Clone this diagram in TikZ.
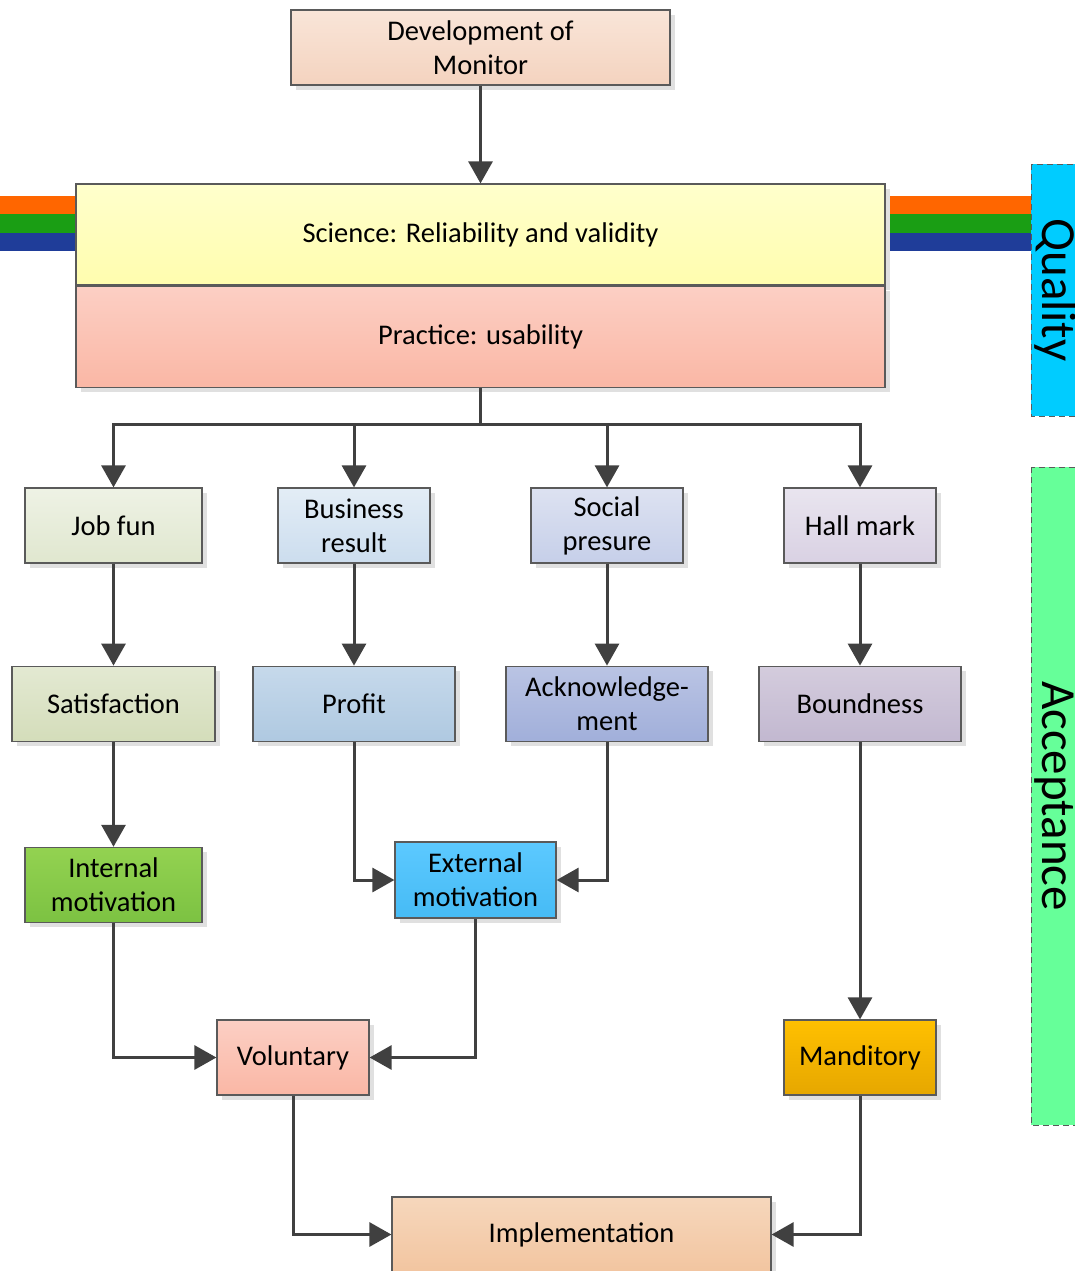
\documentclass[tikz,border=0pt]{standalone}
\usepackage{fontspec}
\setmainfont{Carlito}
\usetikzlibrary{arrows.meta, positioning, shadows}

\definecolor{edgegray}{HTML}{5A5A5A}
\definecolor{arrowgray}{HTML}{404040}
\definecolor{stripeorange}{HTML}{FF6600}
\definecolor{stripegreen}{HTML}{1A9E14}
\definecolor{stripeblue}{HTML}{1F3D99}
\definecolor{qualitycyan}{HTML}{00CCFF}
\definecolor{acceptgreen}{HTML}{66FF99}

\tikzset{
  box/.style={rectangle, draw=edgegray, line width=1.2pt, align=center,
    minimum height=75pt, inner sep=0pt,
    drop shadow={shadow xshift=5pt, shadow yshift=-5pt, fill=black!12, opacity=1}},
  shade2/.code 2 args={\definecolor{shtop}{HTML}{#1}\definecolor{shbot}{HTML}{#2}%
    \pgfkeysalso{/tikz/top color=shtop, /tikz/bottom color=shbot}},
  line/.style={draw=arrowgray, line width=3pt},
  arr/.style={line, -{Triangle[length=22pt, width=24pt]}},
  band/.style={draw=edgegray, line width=1pt, dash pattern=on 6pt off 4pt}
}

\begin{document}
\begin{tikzpicture}[x=1pt, y=1pt, font=\fontsize{28.5}{34}\selectfont]
\useasboundingbox (0,0) rectangle (1074,-1271);

% colour stripes
\fill[stripeorange] (0,-196) rectangle (76,-214);
\fill[stripegreen]  (0,-214) rectangle (76,-233);
\fill[stripeblue]   (0,-233) rectangle (76,-251);
\fill[stripeorange] (885,-196) rectangle (1031,-214);
\fill[stripegreen]  (885,-214) rectangle (1031,-233);
\fill[stripeblue]   (885,-233) rectangle (1031,-251);

% side bands
\draw[band, fill=qualitycyan] (1031,-164) rectangle (1090,-416);
\draw[band, fill=acceptgreen] (1031,-467) rectangle (1090,-1125);
\node[rotate=-90, anchor=base, font=\fontsize{49}{55}\selectfont] (quality) at (1042,-290) {Quality};
\node[rotate=-90, anchor=base, font=\fontsize{49}{55}\selectfont] (accept) at (1042,-796) {Acceptance};

% top
\node[box, shade2={F9E5D8}{F4D3BF}, minimum width=379pt] (dev) at (480.5,-47.5) {Development of\\Monitor};
\node[box, shade2={FFFFCC}{FFFDAE}, minimum width=809pt, minimum height=101pt] (science) at (480.5,-234.5) {Science: Reliability and validity};
\node[box, shade2={FCCFC4}{FAB7A5}, minimum width=809pt, minimum height=101pt, below=0pt of science] (practice) {Practice: usability};

% first row
\node[box, shade2={EEF2E5}{E0E7CF}, minimum width=177pt] (jobfun) at (113.5,-525.5) {Job fun};
\node[box, shade2={E3EDF6}{CCDDEE}, minimum width=152pt] (business) at (354,-525.5) {Business\\result};
\node[box, shade2={DDE2F1}{C6CFE9}, minimum width=152pt] (social) at (607,-525.5) {Social\\presure};
\node[box, shade2={E9E5EF}{D9D1E3}, minimum width=152pt] (hallmark) at (860,-525.5) {Hall mark};

% second row
\node[box, shade2={E3E9D2}{D4DDBA}, minimum width=203pt, below=102pt of jobfun] (satis) {Satisfaction};
\node[box, shade2={C6D9EB}{AFC9E1}, minimum width=202pt, below=102pt of business] (profit) {Profit};
\node[box, shade2={BAC4E4}{A1AFDA}, minimum width=202pt, below=102pt of social] (ack) {Acknowledge-\\ment};
\node[box, shade2={D4CCDD}{C2B8D0}, minimum width=202pt, below=102pt of hallmark] (bound) {Boundness};

% motivation
\node[box, shade2={93D251}{7CC242}, minimum width=177pt, below=105pt of satis] (intm) {Internal\\motivation};
\node[box, shade2={5CC9FF}{46BBF5}, minimum width=161pt, minimum height=76pt] (extm) at (475.5,-880) {External\\motivation};

% decision
\node[box, shade2={FCCFC4}{FAB7A5}, minimum width=152pt] (vol) at (293,-1057.5) {Voluntary};
\node[box, shade2={FFC000}{E6A700}, minimum width=152pt] (mand) at (860,-1057.5) {Manditory};
\node[box, shade2={F6D7BC}{F2C5A0}, minimum width=379pt] (impl) at (581.5,-1234.5) {Implementation};

% connectors
\coordinate (split) at (480.5,-424);
\draw[arr] (dev) -- (science);
\draw[line] (practice.south) -- (split);
\draw[arr] (split) -| (jobfun.north);
\draw[arr] (split) -| (business.north);
\draw[arr] (split) -| (social.north);
\draw[arr] (split) -| (hallmark.north);

\draw[arr] (jobfun) -- (satis);
\draw[arr] (business) -- (profit);
\draw[arr] (social) -- (ack);
\draw[arr] (hallmark) -- (bound);

\draw[arr] (satis) -- (intm);
\draw[arr] (profit.south) |- (extm.west);
\draw[arr] (ack.south) |- (extm.east);
\draw[arr] (bound.south) -- (mand.north);

\draw[arr] (intm.south) |- (vol.west);
\draw[arr] (extm.south) |- (vol.east);
\draw[arr] (vol.south) |- (impl.west);
\draw[arr] (mand.south) |- (impl.east);
\end{tikzpicture}
\end{document}
